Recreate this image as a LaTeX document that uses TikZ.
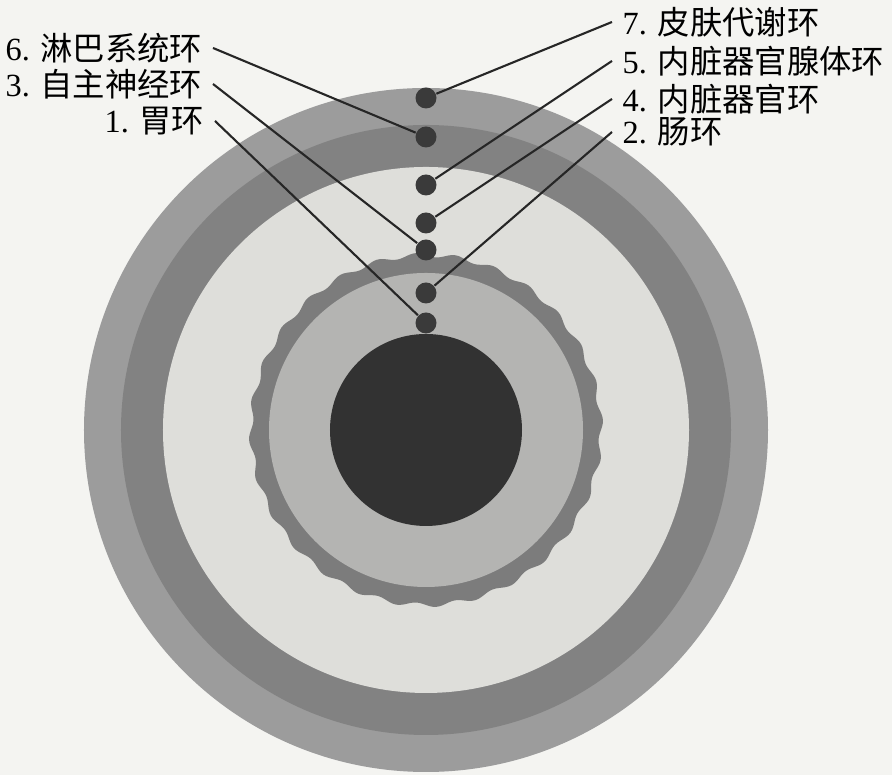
\documentclass[tikz,border=0pt]{standalone}
\usepackage{fontspec}
\setmainfont{Liberation Serif}
\newfontfamily\cjk{Noto Sans CJK SC}
\definecolor{paper}{HTML}{F4F4F1}
\definecolor{ringout}{HTML}{9C9C9C}
\definecolor{ringdark}{HTML}{828282}
\definecolor{ringlight}{HTML}{DEDEDA}
\definecolor{ringwave}{HTML}{7C7C7C}
\definecolor{ringmid}{HTML}{B4B4B2}
\definecolor{core}{HTML}{323232}
\definecolor{dotgray}{HTML}{3A3A3A}
\begin{document}
\begin{tikzpicture}[dot/.style={circle,fill=dotgray,inner sep=0pt,minimum size=2.1mm},
  lbl/.style={inner xsep=1mm,inner ysep=0pt,font=\fontsize{9.2}{11}\selectfont},
  lead/.style={draw=black!85,line width=0.6pt}]
\useasboundingbox[fill=paper] (-4.26,-3.45) rectangle (4.66,4.30);
% rings, outside in
\fill[fill=ringout] (0,0) circle (3.42);
\fill[fill=ringdark] (0,0) circle (3.05);
\fill[fill=ringlight] (0,0) circle (2.63);
\fill[fill=ringwave] plot[domain=0:360,samples=337] (\x:{1.75+0.022*sin(28*\x)}) -- cycle;
\fill[fill=ringmid] (0,0) circle (1.57);
\fill[fill=core] (0,0) circle (0.96);
% points
\node[dot] (d7) at (0,3.32) {};
\node[dot] (d6) at (0,2.93) {};
\node[dot] (d5) at (0,2.45) {};
\node[dot] (d4) at (0,2.07) {};
\node[dot] (d3) at (0,1.80) {};
\node[dot] (d2) at (0,1.37) {};
\node[dot] (d1) at (0,1.07) {};
% labels
\node[lbl,anchor=east] (l6) at (-2.13,3.82) {6. \cjk 淋巴系统环};
\node[lbl,anchor=east] (l3) at (-2.13,3.46) {3. \cjk 自主神经环};
\node[lbl,anchor=east] (l1) at (-2.11,3.09) {1. \cjk 胃环};
\node[lbl,anchor=west] (l7) at (1.86,4.08) {7. \cjk 皮肤代谢环};
\node[lbl,anchor=west] (l5) at (1.86,3.69) {5. \cjk 内脏器官腺体环};
\node[lbl,anchor=west] (l4) at (1.86,3.31) {4. \cjk 内脏器官环};
\node[lbl,anchor=west] (l2) at (1.86,2.98) {2. \cjk 肠环};
\draw[lead] (l6.east) -- (d6);
\draw[lead] (l3.east) -- (d3);
\draw[lead] (l1.east) -- (d1);
\draw[lead] (l7.west) -- (d7);
\draw[lead] (l5.west) -- (d5);
\draw[lead] (l4.west) -- (d4);
\draw[lead] (l2.west) -- (d2);
\end{tikzpicture}
\end{document}
